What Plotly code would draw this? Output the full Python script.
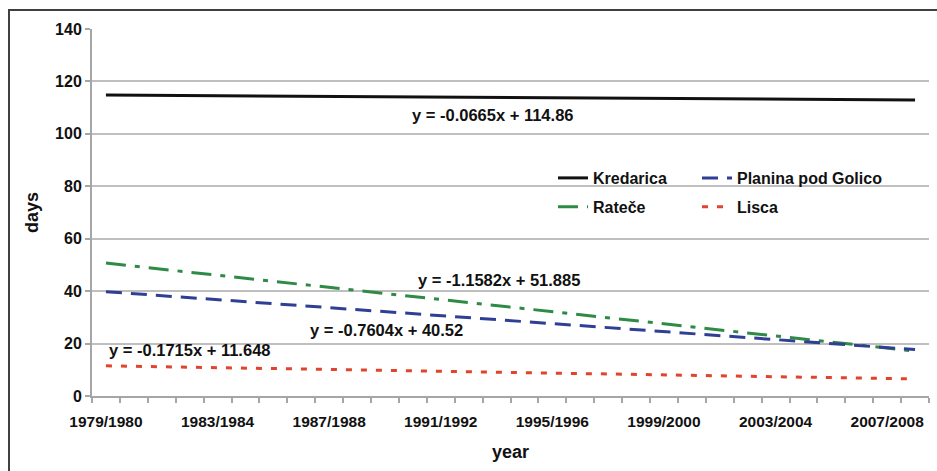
import plotly.graph_objects as go

seasons = [f"{y}/{y+1}" for y in range(1979, 2009)]
label_seasons = seasons[::4]

series_names = ["Kredarica", "Rateče", "Planina pod Golico", "Lisca"]
start_values = [114.8, 50.7, 39.8, 11.5]
end_values = [112.9, 17.1, 17.7, 6.5]
equations = ["y = -0.0665x + 114.86", "y = -1.1582x + 51.885",
             "y = -0.7604x + 40.52", "y = -0.1715x + 11.648"]

colors = ["#111111", "#2E8B45", "#2F3F94", "#E0442C"]
dashes = ["solid", "20px,9px,5px,9px", "16px,9px", "6px,9px"]
legends = ["legend", "legend", "legend2", "legend2"]

FONT = "Liberation Sans, Arial, sans-serif"

xpos = {s: i + 1 for i, s in enumerate(seasons)}

fig = go.Figure()
for name, a, b, c, d, lg in zip(series_names, start_values, end_values, colors, dashes, legends):
    fig.add_trace(go.Scatter(
        x=[xpos[seasons[0]], xpos[seasons[-1]]], y=[a, b],
        mode="lines", name=f"<b>{name}</b>", legend=lg, legendgroup=name,
        line=dict(color=c, width=3, dash=d),
    ))

# equation labels (positions in axis units)
eq_pos = [(14.84, 107.2), (15.1, 44.3), (11.07, 25.2), (4.0, 17.6)]
for txt, (ex, ey) in zip(equations, eq_pos):
    fig.add_annotation(x=ex, y=ey, xref="x", yref="y", text=f"<b>{txt}</b>",
                       showarrow=False, font=dict(family=FONT, size=16.5, color="#111111"))

# legend background covering gridline
fig.add_shape(type="rect", xref="paper", yref="paper",
              x0=(548 - 92) / 837, x1=(900 - 92) / 837,
              y0=(396 - 222) / 367, y1=(396 - 163) / 367,
              fillcolor="white", line=dict(width=0), layer="between")
# hide top gridline
fig.add_shape(type="line", xref="paper", yref="y", x0=0, x1=1, y0=140, y1=140,
              line=dict(color="white", width=3), layer="between")
# outer frame
fig.add_shape(type="rect", xref="paper", yref="paper",
              x0=(9 - 92) / 837, x1=(960 - 92) / 837,
              y0=(396 - 490) / 367, y1=(396 - 10) / 367,
              line=dict(color="#404040", width=2), fillcolor="rgba(0,0,0,0)", layer="below")

leg_font = dict(family=FONT, size=16, color="#111111")
fig.update_layout(
    width=937, height=471,
    margin=dict(l=92, r=8, t=29, b=75),
    paper_bgcolor="white", plot_bgcolor="white",
    font=dict(family=FONT, size=15, color="#111111"),
    legend=dict(x=(553 - 92) / 837, y=(396 - 161) / 367, xanchor="left", yanchor="top",
                bgcolor="rgba(0,0,0,0)", font=leg_font, tracegroupgap=5,
                borderwidth=0),
    legend2=dict(x=(697 - 92) / 837, y=(396 - 161) / 367, xanchor="left", yanchor="top",
                 bgcolor="rgba(0,0,0,0)", font=leg_font, tracegroupgap=5,
                 borderwidth=0),
    xaxis=dict(
        range=[0.5, len(seasons) + 0.5],
        tickvals=[xpos[s] for s in label_seasons],
        ticktext=[f"<b>{s}</b>" for s in label_seasons],
        ticks="outside", ticklen=10, tickcolor="rgba(0,0,0,0)",
        showgrid=False, zeroline=False,
        showline=True, linecolor="#A6A6A6", linewidth=2,
        minor=dict(tick0=0.5, dtick=1, ticks="outside", ticklen=5,
                   tickcolor="#A6A6A6", tickwidth=1.5, showgrid=False),
        tickfont=dict(family=FONT, size=15.5, color="#111111"),
        title=dict(text="<b>year</b>", font=dict(family=FONT, size=18, color="#111111"), standoff=17),
    ),
    yaxis=dict(
        range=[0, 140], dtick=20, tick0=0,
        ticks="outside", ticklen=5, tickcolor="#A6A6A6", tickwidth=1.5,
        showgrid=True, gridcolor="#BFBFBF", gridwidth=1.5, zeroline=False,
        showline=True, linecolor="#A6A6A6", linewidth=2,
        tickprefix="<b>", ticksuffix="</b>",
        tickfont=dict(family=FONT, size=16, color="#111111"),
        title=dict(text="<b>days</b>", font=dict(family=FONT, size=18, color="#111111"), standoff=12),
    ),
)

fig.write_html("out.html", post_script="document.body.style.margin='0';",
               config={"displayModeBar": False})
